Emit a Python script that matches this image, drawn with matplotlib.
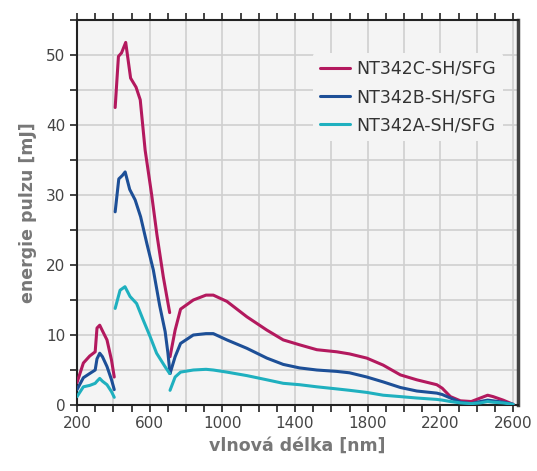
import numpy as np
import matplotlib
matplotlib.use("Agg")
import matplotlib.pyplot as plt
from matplotlib.ticker import MultipleLocator, FixedLocator

# --- data (wavelength nm, energy mJ), three ranges each ---
# NT342C
c_x1 = [200, 235, 270, 300, 310, 325, 340, 365, 390, 405]
c_y1 = [3.2, 6.0, 7.0, 7.6, 11.0, 11.4, 10.6, 9.3, 6.4, 4.0]
c_x2 = [410, 428, 445, 468, 495, 525, 548, 575, 610, 640, 675, 710]
c_y2 = [42.5, 49.8, 50.3, 51.8, 46.7, 45.4, 43.6, 36.4, 30.2, 24.3, 18.3, 13.2]
# NT342B
b_x1 = [200, 235, 270, 300, 310, 325, 340, 365, 390, 405]
b_y1 = [2.2, 3.9, 4.5, 5.0, 6.6, 7.4, 6.9, 5.5, 3.6, 2.2]
b_x2 = [410, 430, 450, 465, 490, 520, 550, 585, 620, 655, 685, 700, 712]
b_y2 = [27.6, 32.3, 32.8, 33.3, 30.8, 29.3, 26.9, 23.0, 19.3, 14.2, 10.5, 7.5, 4.5]
# NT342A
a_x1 = [200, 235, 270, 300, 310, 325, 340, 365, 390, 405]
a_y1 = [1.2, 2.6, 2.8, 3.1, 3.4, 3.8, 3.4, 2.9, 1.9, 1.1]
a_x2 = [410, 437, 464, 492, 528, 565, 602, 638, 684, 710]
a_y2 = [13.8, 16.4, 16.9, 15.5, 14.5, 12.1, 9.8, 7.4, 5.5, 4.5]

x3 = [712, 740, 770, 840, 910, 950, 1025, 1135, 1245, 1335, 1425, 1520, 1630, 1700,
      1795, 1885, 1980, 2070, 2180, 2210, 2255, 2310, 2370, 2420, 2460, 2490, 2545, 2600]
c_y3 = [6.9, 10.7, 13.7, 15.0, 15.7, 15.7, 14.8, 12.6, 10.7, 9.3, 8.6, 7.9, 7.6, 7.3,
        6.7, 5.7, 4.3, 3.6, 2.9, 2.4, 1.2, 0.6, 0.5, 1.0, 1.4, 1.2, 0.7, 0.1]
b_y3 = [4.5, 6.9, 8.8, 10.0, 10.2, 10.2, 9.3, 8.1, 6.7, 5.8, 5.3, 5.0, 4.8, 4.6,
        4.0, 3.3, 2.5, 2.0, 1.7, 1.5, 1.0, 0.4, 0.2, 0.5, 0.7, 0.6, 0.4, 0.1]
a_y3 = [2.1, 4.0, 4.7, 5.0, 5.1, 5.0, 4.7, 4.2, 3.6, 3.1, 2.9, 2.6, 2.3, 2.1,
        1.8, 1.4, 1.2, 1.0, 0.8, 0.7, 0.5, 0.3, 0.2, 0.3, 0.5, 0.4, 0.3, 0.1]

labels = ['NT342C-SH/SFG', 'NT342B-SH/SFG', 'NT342A-SH/SFG']
colors = ['#b3195e', '#1d4f97', '#1fb0bf']

series = [
    [(c_x1, c_y1), (c_x2, c_y2), (x3, c_y3)],
    [(b_x1, b_y1), (b_x2, b_y2), (x3, b_y3)],
    [(a_x1, a_y1), (a_x2, a_y2), (x3, a_y3)],
]

fig = plt.figure(figsize=(5.37, 4.71), dpi=100)
ax = fig.add_axes([0.1434, 0.1401, 0.8212, 0.8174])
ax.set_facecolor('#f4f4f4')

for segs, col, lab in zip(series, colors, labels):
    for k, (xs, ys) in enumerate(segs):
        ax.plot(xs, ys, color=col, lw=2.2, solid_capstyle='round', solid_joinstyle='round',
                label=lab if k == 0 else None, zorder=3)

ax.set_xlim(200, 2627)
ax.set_ylim(0, 55)

# grid every 200 nm / 5 mJ
for gx in range(400, 2601, 200):
    ax.axvline(gx, color='#cfcfcf', lw=1.2, zorder=1)
for gy in range(5, 55, 5):
    ax.axhline(gy, color='#cfcfcf', lw=1.2, zorder=1)

ax.xaxis.set_major_locator(FixedLocator(range(200, 2601, 400)))
ax.xaxis.set_minor_locator(FixedLocator([v for v in range(300, 2601, 100) if (v - 200) % 400]))
ax.yaxis.set_major_locator(MultipleLocator(10))
ax.yaxis.set_minor_locator(MultipleLocator(5))
ax.tick_params(axis='x', which='both', direction='out', length=5, width=1.2,
               top=True, colors='#222222', labelcolor='#444444', labelsize=11)
ax.tick_params(axis='y', which='both', direction='out', length=5, width=1.2,
               right=False, colors='#222222', labelcolor='#444444', labelsize=11)
ax.tick_params(axis='x', which='major', pad=3)

for s in ['left', 'bottom', 'top']:
    ax.spines[s].set_color('#222222')
    ax.spines[s].set_linewidth(1.5)
ax.spines['right'].set_color('#444444')
ax.spines['right'].set_linewidth(2.5)

ax.set_xlabel('vlnová délka [nm]', color='#777777', fontsize=12.5, fontweight='bold', labelpad=4)
ax.set_ylabel('energie pulzu [mJ]', color='#777777', fontsize=12.5, fontweight='bold', labelpad=6)

leg = ax.legend(loc='upper right', bbox_to_anchor=(0.965, 0.915), frameon=True,
                facecolor='#f4f4f4', edgecolor='none', framealpha=1,
                fontsize=12.5, handlelength=1.7, handletextpad=0.35, labelspacing=0.6,
                borderaxespad=0, borderpad=0.4)
for t in leg.get_texts():
    t.set_color('#333333')
leg.set_zorder(4)

fig.savefig('out.png', dpi=100)
